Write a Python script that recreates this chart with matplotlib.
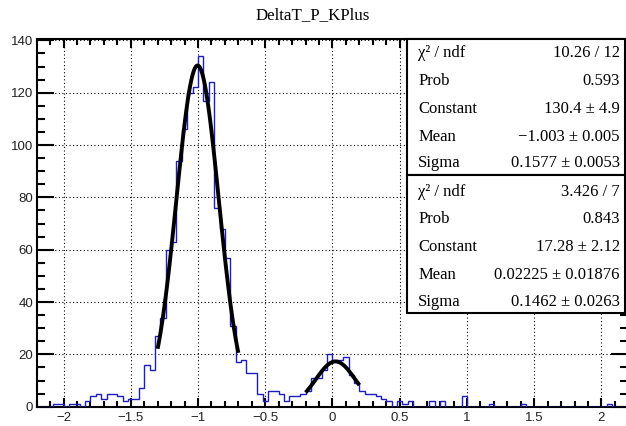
import numpy as np
import matplotlib
matplotlib.use("Agg")
import matplotlib.pyplot as plt
from matplotlib.patches import Rectangle
from matplotlib.ticker import MultipleLocator, FuncFormatter


W, H = 626, 426

# histogram: 110 bins of 0.04 between -2.2 and 2.2
X_LO, X_HI, N_BINS = -2.2, 2.2, 110
COUNTS = [
    0, 0, 0, 1, 1, 0, 1, 1, 0, 2,
    4, 5, 3, 5, 5, 4, 2, 3, 3, 7,
    16, 14, 27, 34, 60, 63, 94, 106, 120, 122,
    134, 117, 124, 76, 68, 57, 31, 17, 18, 13,
    13, 5, 2, 6, 6, 5, 2, 4, 4, 5,
    6, 11, 11, 14, 20, 18, 18, 19, 12, 9,
    6, 5, 5, 4, 3, 2, 0, 2, 1, 2,
    0, 0, 0, 2, 0, 2, 0, 0, 0, 4,
    0, 0, 0, 0, 1, 0, 0, 0, 0, 0,
    1, 0, 0, 0, 0, 0, 0, 0, 0, 0,
    0, 0, 0, 0, 0, 0, 1, 0, 0, 0,
]

# gaussian fits: constant, mean, sigma and fit range
FIT1 = (130.4, -1.003, 0.1577)
FIT1_RANGE = (-1.3, -0.7)
FIT2 = (17.28, 0.02225, 0.1462)
FIT2_RANGE = (-0.2, 0.2)

STAT_NAMES = ["\u03c7\u00b2 / ndf", "Prob", "Constant", "Mean", "Sigma"]
STAT1_VALUES = ["10.26 / 12", "0.593", "130.4 \u00b1 4.9",
                "\u22121.003 \u00b1 0.005", "0.1577 \u00b1 0.0053"]
STAT2_VALUES = ["3.426 / 7", "0.843", "17.28 \u00b1 2.12",
                "0.02225 \u00b1 0.01876", "0.1462 \u00b1 0.0263"]

TITLE = "DeltaT_P_KPlus"
Y_MAX = 140.7


def fx(x):
    return x / W


def fy(y):
    return 1.0 - y / H


def gaus(x, c, m, s):
    return c * np.exp(-0.5 * ((x - m) / s) ** 2)


def short_num(v, _pos):
    return f"{v:g}".replace("-", "\u2212")


def main():
    fig = plt.figure(figsize=(W / 100, H / 100), dpi=100)
    fig.patch.set_facecolor("white")

    left, right, top, bottom = 36.6, 628.4, 38.5, 406.7
    ax = fig.add_axes([fx(left), fy(bottom), fx(right - left), (bottom - top) / H])

    edges = np.linspace(X_LO, X_HI, N_BINS + 1)
    ax.stairs(COUNTS, edges, color="#1c1cc0", lw=1.0, zorder=3)

    for (c, m, s), (a, b) in ((FIT1, FIT1_RANGE), (FIT2, FIT2_RANGE)):
        xf = np.linspace(a, b, 100)
        ax.plot(xf, gaus(xf, c, m, s), color="black", lw=2.8, zorder=4,
                solid_capstyle="butt")

    ax.set_xlim(X_LO, X_HI)
    ax.set_ylim(0, Y_MAX)

    ax.xaxis.set_major_locator(MultipleLocator(0.5))
    ax.xaxis.set_minor_locator(MultipleLocator(0.1))
    ax.yaxis.set_major_locator(MultipleLocator(20))
    ax.yaxis.set_minor_locator(MultipleLocator(5))
    ax.xaxis.set_major_formatter(FuncFormatter(short_num))
    ax.grid(True, which="major", color="black", lw=0.8,
            linestyle=(0, (1, 2.2)), zorder=1)
    ax.set_axisbelow(True)

    for sp in ax.spines.values():
        sp.set_linewidth(1.5)
    ax.tick_params(axis="both", which="both", direction="in", top=True,
                   right=True, width=1.5, labelsize=9.5, colors="black")
    ax.tick_params(axis="x", which="major", length=6.2, pad=3.5)
    ax.tick_params(axis="x", which="minor", length=4.0)
    ax.tick_params(axis="y", which="major", length=12.0, pad=2.5)
    ax.tick_params(axis="y", which="minor", length=6.0)
    for lab in ax.get_xticklabels() + ax.get_yticklabels():
        lab.set_fontfamily("Liberation Sans")
        lab.set_color("#222222")

    fig.text(0.5, fy(15), TITLE, ha="center", va="center",
             family="Liberation Serif", fontsize=12.2)

    # stat boxes
    bx0, bx1 = 407.3, 624.5
    boxes = [(38.5, 175.0, STAT1_VALUES, [53.3, 81.0, 109.0, 136.7, 163.3]),
             (175.0, 313.3, STAT2_VALUES, [191.7, 219.0, 247.3, 275.0, 301.7])]
    for y0, y1, values, rows in boxes:
        fig.add_artist(Rectangle((fx(bx0), fy(y1)), fx(bx1 - bx0), (y1 - y0) / H,
                                 facecolor="white", edgecolor="black", lw=1.5,
                                 transform=fig.transFigure, zorder=5))
        for name, val, yr in zip(STAT_NAMES, values, rows):
            fig.text(fx(418.3), fy(yr), name, ha="left", va="center",
                     family="Liberation Serif", fontsize=12, zorder=6)
            fig.text(fx(620.0), fy(yr), val, ha="right", va="center",
                     family="Liberation Serif", fontsize=12, zorder=6)

    fig.savefig("out.png", dpi=100)
    plt.close(fig)


if __name__ == "__main__":
    main()
